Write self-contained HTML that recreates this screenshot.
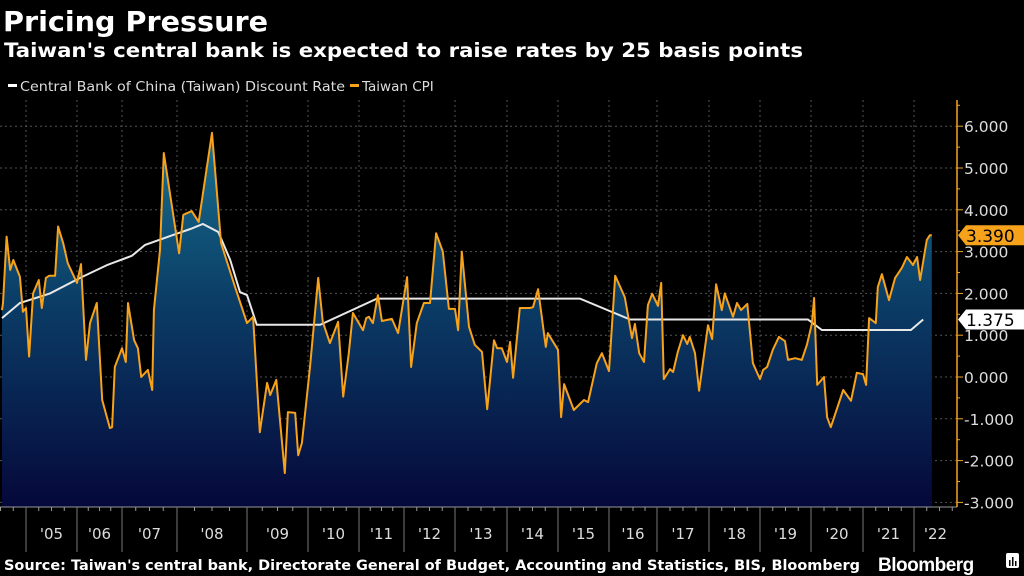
<!DOCTYPE html>
<html><head><meta charset="utf-8">
<style>
html,body{margin:0;padding:0;background:#000;}
body{width:1024px;height:576px;overflow:hidden;font-family:"DejaVu Sans","Liberation Sans",sans-serif;}
svg{display:block}
</style></head>
<body>
<svg id="chart" width="1024" height="576" viewBox="0 0 1024 576">
<defs>
<linearGradient id="fillGrad" gradientUnits="userSpaceOnUse" x1="0" y1="120" x2="0" y2="507">
<stop offset="0" stop-color="#1a7593"/>
<stop offset="0.45" stop-color="#0b3f68"/>
<stop offset="1" stop-color="#05083a"/>
</linearGradient>
</defs>
<text x="3" y="31" fill="#fff" font-size="28" font-weight="bold" textLength="265" lengthAdjust="spacingAndGlyphs">Pricing Pressure</text>
<text x="4" y="57" fill="#fff" font-size="19.5" font-weight="bold" textLength="799" lengthAdjust="spacingAndGlyphs">Taiwan's central bank is expected to raise rates by 25 basis points</text>
<g>
<g>
<rect x="8" y="84" width="9" height="3" fill="#fff"/>
<text x="20" y="91" fill="#ddd" font-size="13.5" textLength="325" lengthAdjust="spacingAndGlyphs">Central Bank of China (Taiwan) Discount Rate</text>
</g>
<g>
<rect x="350" y="84" width="9" height="3" fill="#f7a21b"/>
<text x="362" y="91" fill="#ddd" font-size="13.5">Taiwan CPI</text>
</g>
</g>
<g id="grid"></g>
<g id="series"></g>
<g id="axes"></g>
<text x="4" y="570" fill="#fff" font-size="14.5" font-weight="bold" textLength="856" lengthAdjust="spacingAndGlyphs">Source: Taiwan's central bank, Directorate General of Budget, Accounting and Statistics, BIS, Bloomberg</text>
<text x="878" y="571" fill="#fff" font-size="19" font-weight="bold" font-family="Liberation Sans, sans-serif" letter-spacing="-0.5">Bloomberg</text>
<g>
<rect x="1006" y="553" width="13" height="15" rx="2" fill="#fff"/>
<rect x="1009" y="560" width="1.5" height="6" fill="#000"/><rect x="1012" y="557" width="1.5" height="9" fill="#000"/><rect x="1015" y="561" width="1.5" height="5" fill="#000"/>
</g>
</svg>
<script>
const cpiDates=[2004.53,2004.55,2004.62,2004.69,2004.75,2004.88,2004.94,2005.0,2005.06,2005.14,2005.25,2005.31,2005.39,2005.45,2005.57,2005.63,2005.73,2005.82,2006.0,2006.09,2006.2,2006.29,2006.44,2006.56,2006.73,2006.78,2006.84,2007.0,2007.07,2007.11,2007.22,2007.29,2007.35,2007.47,2007.55,2007.58,2007.69,2007.76,2008.03,2008.09,2008.21,2008.31,2008.5,2008.63,2008.83,2009.0,2009.1,2009.21,2009.33,2009.38,2009.48,2009.62,2009.67,2009.79,2009.84,2009.9,2010.04,2010.2,2010.29,2010.43,2010.59,2010.69,2010.8,2010.88,2011.09,2011.16,2011.22,2011.31,2011.42,2011.51,2011.73,2011.87,2012.06,2012.14,2012.25,2012.39,2012.51,2012.63,2012.76,2012.88,2013.0,2013.06,2013.13,2013.27,2013.38,2013.52,2013.62,2013.75,2013.81,2013.9,2014.0,2014.06,2014.12,2014.25,2014.45,2014.51,2014.61,2014.76,2014.8,2015.0,2015.06,2015.12,2015.31,2015.51,2015.59,2015.76,2015.86,2016.0,2016.13,2016.33,2016.48,2016.54,2016.63,2016.73,2016.81,2016.9,2017.02,2017.08,2017.13,2017.25,2017.31,2017.4,2017.5,2017.58,2017.63,2017.73,2017.81,2017.98,2018.06,2018.14,2018.25,2018.31,2018.47,2018.55,2018.63,2018.75,2018.86,2019.0,2019.06,2019.14,2019.25,2019.37,2019.49,2019.55,2019.69,2019.82,2019.92,2020.02,2020.06,2020.12,2020.25,2020.31,2020.38,2020.62,2020.77,2020.88,2021.0,2021.06,2021.12,2021.25,2021.29,2021.37,2021.51,2021.63,2021.76,2021.86,2021.98,2022.06,2022.12,2022.25,2022.31,2022.35];
const cpiValues=[1.6,1.77,3.36,2.56,2.8,2.4,1.56,1.65,0.49,2.0,2.32,1.65,2.37,2.42,2.42,3.6,3.2,2.72,2.25,2.7,0.41,1.29,1.77,-0.55,-1.22,-1.2,0.24,0.69,0.36,1.77,0.88,0.69,0,0.17,-0.31,1.6,3.04,5.36,2.96,3.88,3.97,3.71,5.84,3.2,2.15,1.29,1.44,-1.32,-0.14,-0.43,-0.07,-2.3,-0.84,-0.86,-1.87,-1.58,0.24,2.37,1.32,0.81,1.32,-0.47,0.57,1.53,1.12,1.41,1.44,1.29,1.96,1.34,1.39,1.05,2.39,0.24,1.29,1.77,1.77,3.44,3.0,1.63,1.63,1.12,3.0,1.2,0.77,0.6,-0.77,0.88,0.69,0.69,0.36,0.84,-0.02,1.65,1.65,1.67,2.1,0.72,1.05,0.65,-0.96,-0.17,-0.79,-0.55,-0.6,0.33,0.57,0.14,2.42,1.91,0.93,1.27,0.57,0.36,1.72,1.99,1.7,2.25,-0.05,0.19,0.12,0.6,1.0,0.79,0.96,0.57,-0.33,1.24,0.91,2.22,1.6,2.0,1.44,1.77,1.6,1.75,0.33,-0.05,0.17,0.24,0.65,0.96,0.86,0.41,0.45,0.41,0.77,1.29,1.89,-0.19,0,-0.96,-1.2,-0.31,-0.57,0.1,0.07,-0.19,1.41,1.29,2.15,2.46,1.84,2.37,2.61,2.87,2.68,2.87,2.32,3.28,3.39,3.39];
const rateDates=[2004.53,2004.88,2005.47,2006.07,2006.67,2007.18,2007.42,2007.93,2008.19,2008.37,2008.59,2008.76,2008.9,2009.0,2009.16,2010.24,2011.4,2015.43,2016.44,2019.94,2020.21,2021.94,2022.18];
const rateValues=[1.41,1.77,2.0,2.37,2.68,2.9,3.16,3.4,3.54,3.66,3.47,2.8,2.03,1.96,1.25,1.25,1.875,1.875,1.375,1.375,1.125,1.125,1.375];
const yTicks=[6,5,4,3,2,1,0,-1,-2,-3];
const yTickLabels=["6.000","5.000","4.000","3.000","2.000","1.000","0.000","-1.000","-2.000","-3.000"];
const xYears=[2005,2006,2007,2008,2009,2010,2011,2012,2013,2014,2015,2016,2017,2018,2019,2020,2021,2022];
const xLabels=["'05","'06","'07","'08","'09","'10","'11","'12","'13","'14","'15","'16","'17","'18","'19","'20","'21","'22"];
const lastCpi=3.39, lastRate=1.375;

// axis configuration (Bloomberg non-uniform time axis)
const axisYears=[2004,2005,2006,2007,2008,2009,2010,2011,2012,2013,2014,2015,2016,2017,2018,2019,2020,2021,2022,2023];
const axisPx=[-25,26,77,122,177,247,308,359,404,455,507,558,609,657,709,760,811,863,914,965];
const AX=957, PB=507;
function x(d){for(let i=0;i<axisYears.length-1;i++){if(d<axisYears[i+1]||i===axisYears.length-2){return axisPx[i]+(d-axisYears[i])*(axisPx[i+1]-axisPx[i]);}}}
function y(v){return 377-v*41.8;}
const NS="http://www.w3.org/2000/svg";
function mk(tag,attrs,parent){const e=document.createElementNS(NS,tag);for(const k in attrs)e.setAttribute(k,attrs[k]);parent.appendChild(e);return e;}
const grid=document.getElementById('grid'),series=document.getElementById('series'),axes=document.getElementById('axes');
yTicks.forEach(t=>{const l=mk('line',{x1:0,x2:AX,y1:y(t),y2:y(t),stroke:'#555','stroke-dasharray':'2,3','stroke-width':1},grid);

});
xYears.forEach(yr=>{const l=mk('line',{x1:x(yr),x2:x(yr),y1:100,y2:PB,stroke:'#555','stroke-dasharray':'2,3','stroke-width':1},grid);

});
let pts=cpiDates.map((d,i)=>x(d).toFixed(1)+','+y(cpiValues[i]).toFixed(1));
const area=mk('path',{d:'M'+x(cpiDates[0]).toFixed(1)+','+PB+' L'+pts.join(' L')+' L'+x(cpiDates[cpiDates.length-1]).toFixed(1)+','+PB+' Z',fill:'url(#fillGrad)'},series);


const rl=mk('polyline',{points:rateDates.map((d,i)=>x(d).toFixed(1)+','+y(rateValues[i]).toFixed(1)).join(' '),fill:'none',stroke:'#e8e8e8','stroke-width':2},series);


const cl=mk('polyline',{points:pts.join(' '),fill:'none',stroke:'#f7a21b','stroke-width':2,'stroke-linejoin':'round'},series);


const xa=mk('line',{x1:0,x2:AX,y1:PB,y2:PB,stroke:'#999','stroke-width':1},axes);


for(let yr=2004;yr<=2022;yr++){for(let q=1;q<4;q++){const xx=x(yr+q/4);if(xx>0&&xx<AX){const t=mk('line',{x1:xx,x2:xx,y1:PB,y2:PB+4,stroke:'#999'},axes);

}}}
xYears.forEach((yr,i)=>{const t=mk('line',{x1:x(yr),x2:x(yr),y1:PB,y2:552,stroke:'#777'},axes);


const c=(x(yr)+Math.min(x(yr+1),AX))/2;
const tx=mk('text',{x:c,y:539,'text-anchor':'middle',fill:'#ddd','font-size':15},axes);tx.textContent=xLabels[i];

});
const ya=mk('line',{x1:AX,x2:AX,y1:100,y2:PB,stroke:'#f7a21b','stroke-width':1.5},axes);


for(let v=-3;v<=6.5;v+=0.5){const t=mk('line',{x1:AX,x2:AX+(Number.isInteger(v)?6:3),y1:y(v),y2:y(v),stroke:'#f7a21b'},axes);

}
yTicks.forEach((t,i)=>{const tx=mk('text',{x:964,y:y(t)+6,fill:'#ddd','font-size':15.5},axes);tx.textContent=yTickLabels[i];

});
function badge(v,bg,name){const yy=y(v);const g=mk('g',{},axes);


mk('path',{d:`M958,${yy} L966,${yy-10} L1024,${yy-10} L1024,${yy+10} L966,${yy+10} Z`,fill:bg},g);
const tx=mk('text',{x:966,y:yy+6.5,fill:'#000','font-size':17},g);tx.textContent=v.toFixed(3);}
badge(lastCpi,'#f7a21b','cpi-last-value-badge');
badge(lastRate,'#ffffff','rate-last-value-badge');
</script>
</body></html>
